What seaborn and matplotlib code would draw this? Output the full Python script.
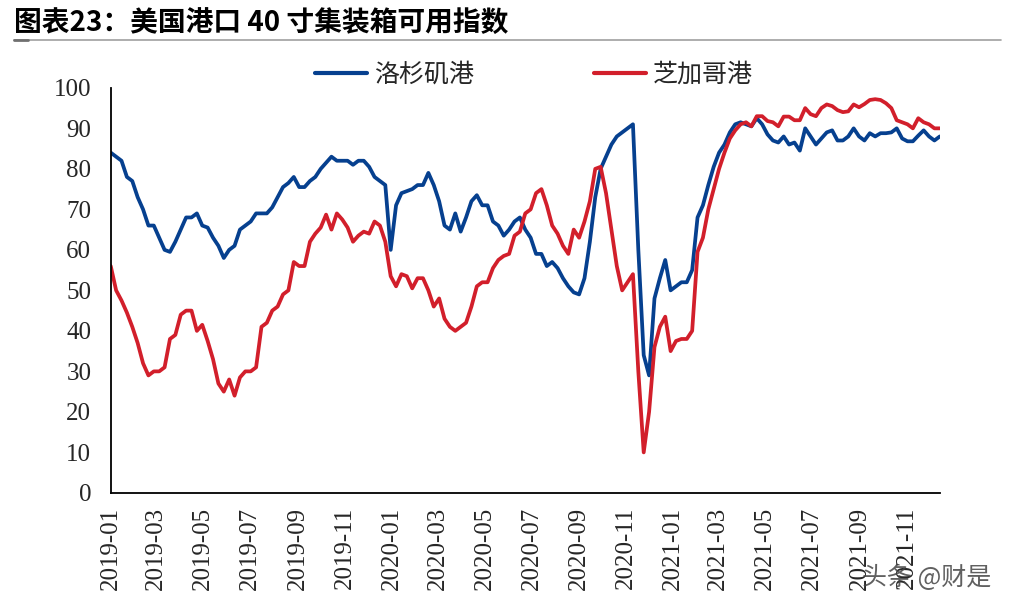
import numpy as np
import pandas as pd
import matplotlib.pyplot as plt
import matplotlib.dates as mdates
from matplotlib.lines import Line2D
import seaborn as sns

# weekly index values, 2019-01 to 2021-12
la_port = [84, 83, 82, 78, 77, 73, 70, 66, 66, 63,
           60, 59.5, 62, 65, 68, 68, 69, 66, 65.5, 63,
           61, 58, 60, 61, 65, 66, 67, 69, 69, 69,
           70.5, 73, 75.5, 76.5, 78, 75.5, 75.5, 77, 78, 80,
           81.5, 83, 82, 82, 82, 81, 82, 82, 80.5, 78,
           77, 76, 60, 71, 74, 74.5, 75, 76, 76, 79,
           76, 72, 66, 65, 69, 64.5, 68, 72, 73.5, 71,
           71, 67, 66, 63.5, 65, 67, 68, 65, 63, 59,
           59, 56, 57, 55.5, 53, 51, 49.5, 49, 53, 62,
           73, 80, 83, 86, 88, 89, 90, 91, 60, 34,
           29, 48, 53, 57.5, 50, 51, 52, 52, 55, 68,
           71, 76, 80.5, 84, 86, 89, 91, 91.5, 91, 90.5,
           92.5, 91, 88.5, 87, 86.5, 88, 86, 86.5, 84.5, 90,
           88, 86, 87.5, 89, 89.5, 87, 87, 88, 90, 88,
           87, 88.8, 88, 88.8, 88.8, 89, 90, 87.5, 86.8, 86.8,
           88.2, 89.5, 88, 87, 88]

chicago_port = [56, 50, 47.5, 44.5, 41, 37, 32, 29, 30, 30,
                31, 38, 39, 44, 45, 45, 40, 41.5, 37.5, 33,
                27, 25, 28, 24, 28.5, 30, 30, 31, 41, 42,
                45, 46, 49, 50, 57, 56, 56, 62, 64, 65.5,
                68.7, 65, 69, 67.5, 65.5, 62, 63.5, 64.5, 64, 67,
                66, 62, 53.5, 51, 54, 53.5, 50.5, 53, 53, 50,
                46, 48, 43, 41, 40, 41, 42, 46, 51, 52,
                52, 55.5, 57.5, 58.5, 59, 63.5, 64.5, 69, 70, 74,
                75, 71, 66, 64, 61, 59, 65, 63, 67, 72,
                80, 80.5, 74, 65, 56, 50, 52, 54, 30, 10,
                20, 36, 41, 43.5, 35, 37.5, 38, 38, 40, 59.5,
                63, 70, 75, 80, 84, 87.5, 89.5, 91, 91.5, 90.5,
                93, 93, 91.8, 91.5, 90.5, 92.9, 92.9, 92, 92, 95,
                93.5, 93, 95, 95.9, 95.5, 94.5, 94, 94.2, 95.9, 95.2,
                96, 97, 97.2, 97, 96.2, 95, 92, 91.5, 91, 90,
                92.5, 91.5, 91, 90, 90]

series_names = ['洛杉矶港', '芝加哥港']
series_colors = ['#06408F', '#D21F2B']
dates = pd.date_range('2019-01-01', periods=len(la_port), freq='7D')

df = pd.DataFrame({'date': dates, series_names[0]: la_port, series_names[1]: chicago_port})
long_df = df.melt(id_vars='date', var_name='港口', value_name='指数')

sns.set_theme(style='white')
plt.rcParams['font.family'] = ['Noto Sans CJK SC', 'DejaVu Sans']

fig = plt.figure(figsize=(10.16, 6.10), dpi=100)
ax = fig.add_axes([0.109, 0.192, 0.816, 0.664])

sns.lineplot(data=long_df, x='date', y='指数', hue='港口',
             palette=dict(zip(series_names, series_colors)),
             linewidth=2.7, ax=ax)

ax.set_xlim(dates[0], dates[-1])
ax.set_ylim(0, 100)
ax.set_yticks(range(0, 101, 10))
ax.xaxis.set_major_locator(mdates.MonthLocator(bymonth=[1, 3, 5, 7, 9, 11]))
ax.xaxis.set_major_formatter(mdates.DateFormatter('%Y-%m'))
ax.set_xlabel('')
ax.set_ylabel('')

for s in ['top', 'right']:
    ax.spines[s].set_visible(False)
for s in ['left', 'bottom']:
    ax.spines[s].set_color('black')
    ax.spines[s].set_linewidth(1.3)

ax.tick_params(axis='both', direction='in', length=7, width=1.2, color='black')
ax.tick_params(axis='x', pad=10)
ax.tick_params(axis='y', pad=14)
for lab in ax.get_xticklabels():
    lab.set_family('Liberation Serif')
    lab.set_fontsize(18)
    lab.set_rotation(90)
for lab in ax.get_yticklabels():
    lab.set_family('Liberation Serif')
    lab.set_fontsize(18)

leg = ax.legend(loc='center', bbox_to_anchor=(0.51, 1.032), ncol=2,
                frameon=False, fontsize=18, handlelength=2.1,
                columnspacing=4.8, handletextpad=0.25)
for h in leg.get_lines():
    h.set_linewidth(3)

fig.text(0.014, 0.963, '图表23：美国港口 40 寸集装箱可用指数',
         fontsize=20, fontweight='bold', color='black', va='center', ha='left')
fig.add_artist(Line2D([0.014, 0.985], [0.934, 0.934], color='#A0A0A0', linewidth=1.2))
fig.add_artist(Line2D([0.014, 0.028], [0.934, 0.934], color='#707070', linewidth=2))

# watermark sits over the last tick labels, as in the source image
fig.text(0.848, 0.052, '头条 @财是', fontsize=18, color='#444444', alpha=0.85,
         va='center', ha='left')

fig.savefig('out.png', dpi=100)
